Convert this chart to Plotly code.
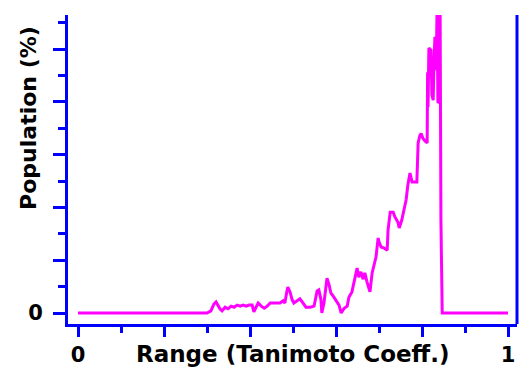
import plotly.graph_objects as go

# Similarity histogram: fraction of pairs per Tanimoto coefficient value
tanimoto = [
    0.0, 0.300, 0.309, 0.316, 0.321, 0.326, 0.330, 0.335, 0.342, 0.349,
    0.356, 0.363, 0.370, 0.377, 0.384, 0.391, 0.398, 0.405, 0.409, 0.414,
    0.419, 0.426, 0.433, 0.440, 0.447, 0.453, 0.463, 0.470, 0.477, 0.481,
    0.486, 0.488, 0.493, 0.498, 0.502, 0.509, 0.516, 0.523, 0.530, 0.540,
    0.549, 0.556, 0.560, 0.565, 0.567, 0.572, 0.579, 0.584, 0.588, 0.595,
    0.602, 0.607, 0.612, 0.619, 0.626, 0.630, 0.637, 0.642, 0.649, 0.653,
    0.658, 0.663, 0.667, 0.672, 0.679, 0.684, 0.688, 0.693, 0.698, 0.700,
    0.705, 0.712, 0.719, 0.721, 0.726, 0.733, 0.737, 0.744, 0.747, 0.753,
    0.758, 0.763, 0.767, 0.770, 0.772, 0.777, 0.784, 0.788, 0.791, 0.795,
    0.798, 0.802, 0.807, 0.812, 0.813, 0.814, 0.816, 0.821, 0.823, 0.826,
    0.828, 0.830, 0.833, 0.835, 0.837, 0.840, 0.842, 0.844, 0.847, 1.0,
]
population = [
    0.00, 0.00, 0.04, 0.17, 0.21, 0.13, 0.08, 0.04, 0.11, 0.08,
    0.13, 0.11, 0.15, 0.13, 0.15, 0.13, 0.15, 0.15, 0.02, 0.11,
    0.19, 0.13, 0.09, 0.13, 0.19, 0.19, 0.19, 0.19, 0.23, 0.19,
    0.42, 0.49, 0.40, 0.25, 0.19, 0.23, 0.27, 0.19, 0.11, 0.11,
    0.13, 0.42, 0.44, 0.25, 0.00, 0.19, 0.66, 0.53, 0.38, 0.30,
    0.21, 0.15, 0.00, 0.09, 0.13, 0.30, 0.40, 0.57, 0.85, 0.68,
    0.78, 0.64, 0.76, 0.59, 0.40, 0.76, 0.91, 1.06, 1.42, 1.35,
    1.25, 1.23, 1.19, 1.57, 1.91, 1.91, 1.82, 1.72, 1.61, 1.76,
    1.95, 2.14, 2.42, 2.61, 2.65, 2.48, 2.48, 2.48, 3.22, 3.36,
    3.40, 3.31, 3.26, 3.22, 4.56, 3.90, 5.02, 4.98, 4.13, 4.03,
    4.79, 5.23, 4.60, 5.80, 3.98, 4.00, 6.00, 1.76, 0.00, 0.00,
]

x_tickvals = [0, 0.2, 0.4, 0.6, 0.8, 1.0]
x_ticktext = ["0", "", "", "", "", "1"]
y_tickvals = [0, 1, 2, 3, 4, 5]
y_ticktext = ["0", "", "", "", "", ""]

BLUE = "#0000FF"
MAGENTA = "#FF00FF"
FONT = "DejaVu Sans"

fig = go.Figure()
fig.add_trace(go.Scatter(
    x=tanimoto, y=population, mode="lines",
    line=dict(color=MAGENTA, width=3),
    hoverinfo="skip", showlegend=False,
))

fig.update_layout(
    width=520, height=369,
    margin=dict(l=68, r=3, t=15, b=45, autoexpand=False),
    paper_bgcolor="white", plot_bgcolor="white",
    font=dict(family=FONT, color="black"),
    xaxis=dict(
        range=[-0.0233, 1.0209], automargin=False,
        showgrid=False, zeroline=False,
        showline=True, linecolor=BLUE, linewidth=3,
        ticks="outside", ticklen=10, tickwidth=3, tickcolor=BLUE,
        tickvals=x_tickvals, ticktext=x_ticktext,
        tickfont=dict(family=FONT, size=21, color="black", weight="bold"),
        minor=dict(dtick=0.1, ticks="outside", ticklen=6, tickwidth=3,
                   tickcolor=BLUE, showgrid=False),
    ),
    yaxis=dict(
        range=[-0.208, 5.644], automargin=False,
        showgrid=False, zeroline=False,
        showline=True, linecolor=BLUE, linewidth=3,
        ticks="outside", ticklen=12, tickwidth=3, tickcolor=BLUE,
        tickvals=y_tickvals, ticktext=y_ticktext, ticklabelstandoff=6,
        tickfont=dict(family=FONT, size=21, color="black", weight="bold"),
        minor=dict(dtick=0.5, ticks="outside", ticklen=7, tickwidth=3,
                   tickcolor=BLUE, showgrid=False),
    ),
    shapes=[
        # right-hand frame edge
        dict(type="line", xref="paper", yref="paper", x0=1, x1=1, y0=0, y1=1,
             line=dict(color=BLUE, width=3)),
    ],
    annotations=[
        dict(text="Range (Tanimoto Coeff.)", xref="paper", yref="paper",
             x=0.5, y=0, yshift=-30, xanchor="center", yanchor="middle",
             showarrow=False,
             font=dict(family=FONT, size=23, color="black", weight="bold")),
        dict(text="Population (%)", xref="paper", yref="paper",
             x=0, xshift=-39, y=0.667, xanchor="center", yanchor="middle",
             textangle=-90, showarrow=False,
             font=dict(family=FONT, size=22, color="black", weight="bold")),
    ],
)

fig.write_html("out.html")
